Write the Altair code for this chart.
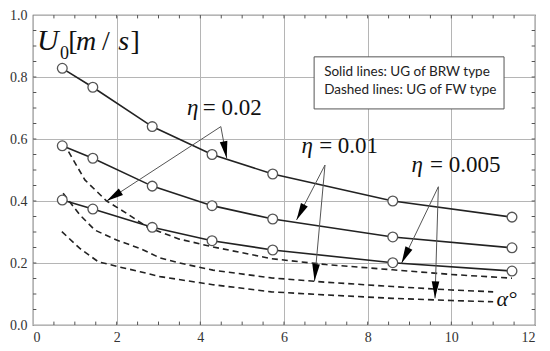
import altair as alt
import pandas as pd
import numpy as np

# ---- data ----
circ_x = [0.7, 1.43, 2.85, 4.28, 5.73, 8.6, 11.45]
solid_002 = [0.828, 0.767, 0.64, 0.55, 0.487, 0.40, 0.348]
solid_001 = [0.578, 0.538, 0.448, 0.385, 0.342, 0.284, 0.249]
solid_0005 = [0.403, 0.374, 0.315, 0.272, 0.242, 0.201, 0.174]

d1_x = [0.85, 1.24, 1.76, 2.24, 2.72, 3.04, 3.5, 4.3, 5.7, 7.0, 8.6, 10.0, 11.45]
d1_y = [0.559, 0.468, 0.40, 0.36, 0.317, 0.30, 0.277, 0.252, 0.214, 0.195, 0.178, 0.163, 0.151]
d2_x = [0.72, 1.12, 1.48, 2.0, 2.56, 3.04, 3.5, 4.3, 5.7, 7.0, 8.6, 10.0, 11.0]
d2_y = [0.425, 0.355, 0.306, 0.274, 0.247, 0.216, 0.2, 0.177, 0.152, 0.138, 0.124, 0.113, 0.107]
d3_x = [0.69, 1.12, 1.56, 2.04, 2.56, 3.04, 4.3, 5.7, 7.0, 8.6, 10.0, 11.0]
d3_y = [0.301, 0.247, 0.204, 0.188, 0.172, 0.156, 0.13, 0.107, 0.097, 0.086, 0.079, 0.075]

# arrows: origin -> tip
arr_x0 = [4.49, 4.49, 6.98, 6.98, 9.69, 9.69]
arr_y0 = [0.64, 0.64, 0.516, 0.516, 0.446, 0.446]
arr_x1 = [4.63, 1.76, 6.30, 6.73, 8.81, 9.61]
arr_y1 = [0.538, 0.40, 0.339, 0.142, 0.199, 0.086]

eta_x = [3.68, 6.42, 9.05]
eq_x = [4.06, 6.84, 9.49]
eta_y = [0.677, 0.554, 0.495]
eta_txt = ["= 0.02", "= 0.01", "= 0.005"]

legend_lines = ["Solid lines: UG of BRW type", "Dashed lines: UG of FW type"]
legend_ty = [0.817, 0.758]

x_ticks = [0, 2, 4, 6, 8, 10, 12]
y_ticks = [0.0, 0.2, 0.4, 0.6, 0.8, 1.0]

W, H = 502, 310
XD = [0, 12]
YD = [0, 1]
xs = alt.Scale(domain=XD, nice=False, zero=False)
ys = alt.Scale(domain=YD, nice=False, zero=False)
SERIF = "Liberation Serif"

# ---- frames ----
solid = pd.concat([
    pd.DataFrame({"x": circ_x, "y": v, "s": n})
    for v, n in [(solid_002, "a"), (solid_001, "b"), (solid_0005, "c")]
])
dashed = pd.concat([
    pd.DataFrame({"x": dx, "y": dy, "s": n})
    for dx, dy, n in [(d1_x, d1_y, "a"), (d2_x, d2_y, "b"), (d3_x, d3_y, "c")]
])

sx, sy = W / (XD[1] - XD[0]), H / (YD[1] - YD[0])
arrows = pd.DataFrame({"x0": arr_x0, "y0": arr_y0, "x1": arr_x1, "y1": arr_y1})
arrows["ang"] = [
    (np.degrees(np.arctan2((b - a) * sx, (d - c) * sy)) + 360) % 360
    for a, b, c, d in zip(arr_x0, arr_x1, arr_y0, arr_y1)
]

X = lambda f="x": alt.X(f"{f}:Q", scale=xs, title=None,
                         axis=alt.Axis(values=x_ticks, format="d"))
Y = lambda f="y": alt.Y(f"{f}:Q", scale=ys, title=None,
                         axis=alt.Axis(values=y_ticks, format=".1f"))

grid = alt.Chart(pd.DataFrame({"x": [0], "y": [0]})).mark_point(opacity=0).encode(x=X(), y=Y())

# minor ticks
mx = np.arange(0.5, 12, 0.5)
my = np.arange(0.05, 1.0, 0.05)
tick_df_b = pd.DataFrame({"x": mx, "y": 0.0, "y2": 0.011})
tick_df_t = pd.DataFrame({"x": mx, "y": 1.0, "y2": 0.989})
tick_df_l = pd.DataFrame({"y": my, "x": 0.0, "x2": 0.08})
tick_df_r = pd.DataFrame({"y": my, "x": 12.0, "x2": 11.92})
tcol = "#555"
tb = alt.Chart(pd.concat([tick_df_b, tick_df_t])).mark_rule(color=tcol, strokeWidth=1).encode(
    x=alt.X("x:Q", scale=xs), y=alt.Y("y:Q", scale=ys), y2="y2:Q")
tl = alt.Chart(pd.concat([tick_df_l, tick_df_r])).mark_rule(color=tcol, strokeWidth=1).encode(
    y=alt.Y("y:Q", scale=ys), x=alt.X("x:Q", scale=xs), x2="x2:Q")

# legend box
box = alt.Chart(pd.DataFrame({"x": [6.72], "x2": [11.26], "y": [0.865], "y2": [0.697]})).mark_rect(
    fill="white", stroke="#555", strokeWidth=1).encode(
    x=alt.X("x:Q", scale=xs), x2="x2:Q", y=alt.Y("y:Q", scale=ys), y2="y2:Q")
box_txt = alt.Chart(pd.DataFrame({"x": [6.96, 6.96], "y": legend_ty, "t": legend_lines})).mark_text(
    align="left", baseline="middle", font="Lato", fontSize=13.5, color="#222").encode(
    x=alt.X("x:Q", scale=xs), y=alt.Y("y:Q", scale=ys), text="t:N")

# lines
dash_l = alt.Chart(dashed).mark_line(color="#222", strokeWidth=1.6, strokeDash=[6, 4]).encode(
    x=alt.X("x:Q", scale=xs), y=alt.Y("y:Q", scale=ys), detail="s:N")
sol_l = alt.Chart(solid).mark_line(color="#222", strokeWidth=1.6).encode(
    x=alt.X("x:Q", scale=xs), y=alt.Y("y:Q", scale=ys), detail="s:N")
sol_p = alt.Chart(solid).mark_point(filled=True, fill="white", stroke="#555", strokeWidth=1.3,
                                     size=95, opacity=1).encode(
    x=alt.X("x:Q", scale=xs), y=alt.Y("y:Q", scale=ys))

# arrows
arr_l = alt.Chart(arrows).mark_rule(color="#555", strokeWidth=1).encode(
    x=alt.X("x0:Q", scale=xs), y=alt.Y("y0:Q", scale=ys), x2="x1:Q", y2="y1:Q")
arr_h = alt.Chart(arrows).mark_point(shape="M0,0 L0.45,2 L-0.45,2 Z", filled=True, color="black",
                                      size=289, opacity=1).encode(
    x=alt.X("x1:Q", scale=xs), y=alt.Y("y1:Q", scale=ys), angle=alt.Angle("ang:Q", scale=None))

# eta labels
eta_g = alt.Chart(pd.DataFrame({"x": eta_x, "y": eta_y})).mark_text(
    text="η", align="left", baseline="alphabetic", font=SERIF, fontStyle="italic",
    fontSize=23, color="#111").encode(x=alt.X("x:Q", scale=xs), y=alt.Y("y:Q", scale=ys))
eta_v = alt.Chart(pd.DataFrame({"x": eq_x, "y": eta_y, "t": eta_txt})).mark_text(
    align="left", baseline="alphabetic", font=SERIF, fontSize=23, color="#111").encode(
    x=alt.X("x:Q", scale=xs), y=alt.Y("y:Q", scale=ys), text="t:N")

# axis title pieces
tit_it = alt.Chart(pd.DataFrame({"x": [0.096, 1.03, 2.04], "y": [0.887, 0.887, 0.887],
                                  "t": ["U", "m", "s"], "fs": [30, 28, 28]})).mark_text(
    align="left", baseline="alphabetic", font=SERIF, fontStyle="italic", color="#111").encode(
    x=alt.X("x:Q", scale=xs), y=alt.Y("y:Q", scale=ys), text="t:N",
    size=alt.Size("fs:Q", scale=None))
tit_rm = alt.Chart(pd.DataFrame({"x": [0.645, 0.84, 1.65, 2.33], "y": [0.858, 0.887, 0.887, 0.887],
                                  "t": ["0", "[", "/", "]"], "fs": [18, 28, 28, 28]})).mark_text(
    align="left", baseline="alphabetic", font=SERIF, color="#111").encode(
    x=alt.X("x:Q", scale=xs), y=alt.Y("y:Q", scale=ys), text="t:N",
    size=alt.Size("fs:Q", scale=None))
alpha = alt.Chart(pd.DataFrame({"x": [11.08], "y": [0.061], "t": ["α°"]})).mark_text(
    align="left", baseline="alphabetic", font=SERIF, fontStyle="italic", fontSize=22,
    color="#111").encode(x=alt.X("x:Q", scale=xs), y=alt.Y("y:Q", scale=ys), text="t:N")

chart = alt.layer(
    grid, tb, tl, dash_l, sol_l, arr_l, arr_h, sol_p, box, box_txt, eta_g, eta_v,
    tit_it, tit_rm, alpha
).properties(
    width=W, height=H, autosize=alt.AutoSizeParams(type="none"),
    padding={"left": 25, "top": 7, "right": 7, "bottom": 18},
    background="white"
).configure_view(
    stroke="#444", strokeWidth=1.2
).configure_axis(
    grid=True, gridColor="#b5b5b5", gridWidth=1, ticks=False, domain=False,
    labelFont=SERIF, labelFontSize=14, labelColor="#333", labelPadding=5
).configure_axisY(labelPadding=6)

chart.save("out.html", embed_options={"renderer": "svg", "actions": False})
